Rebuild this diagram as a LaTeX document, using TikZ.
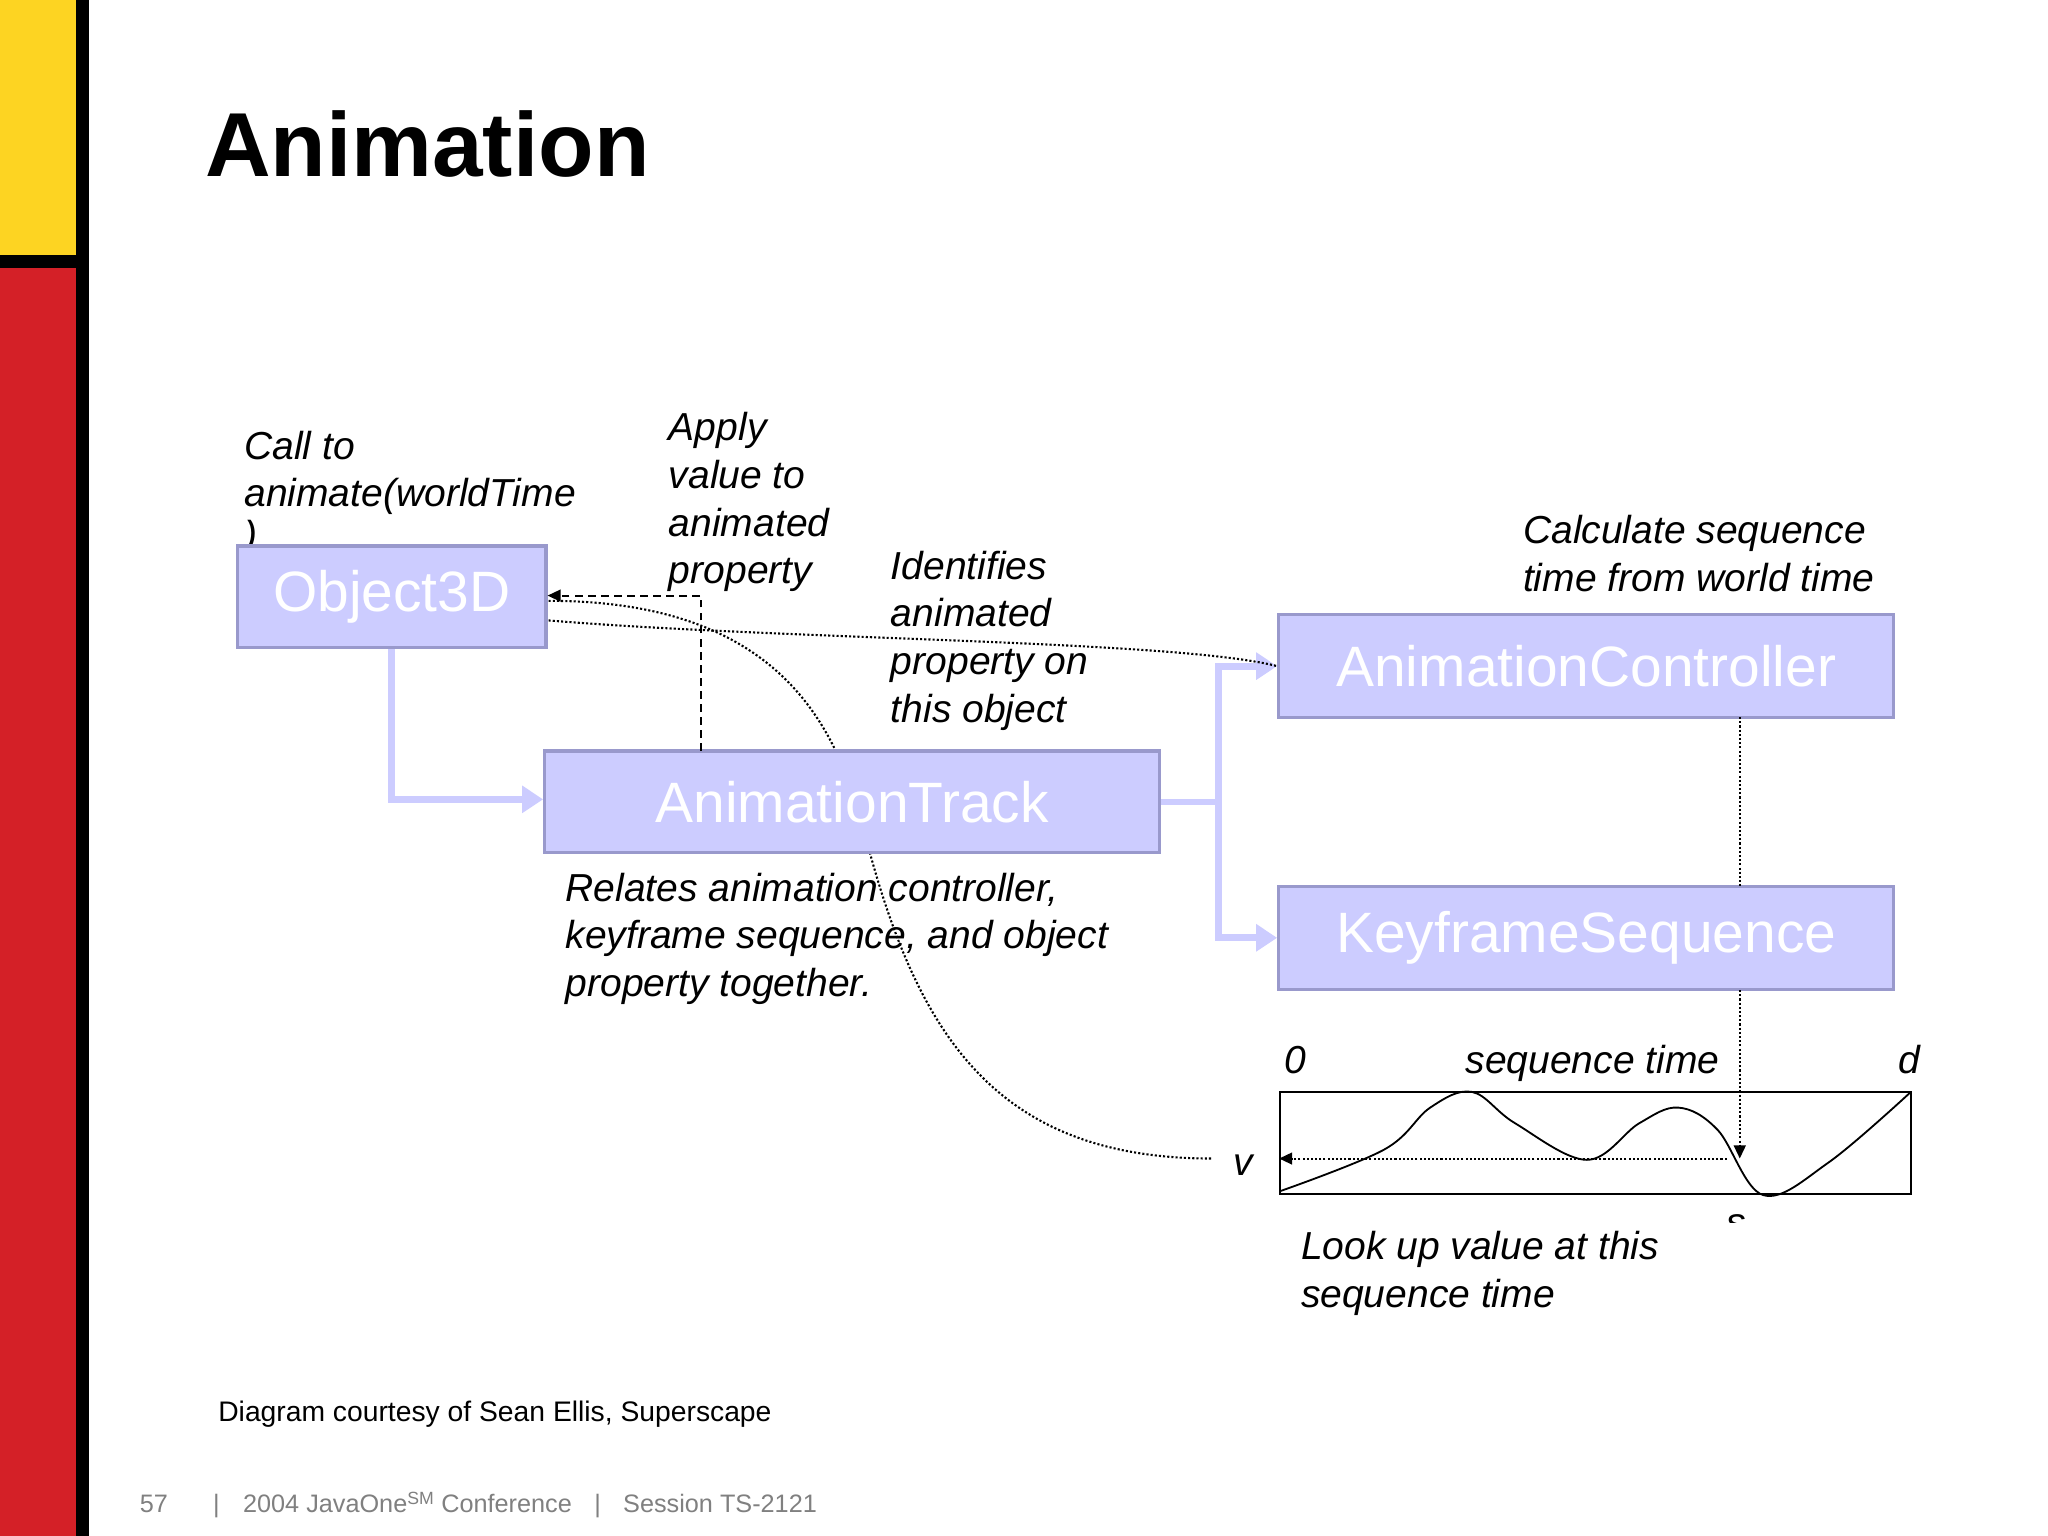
\documentclass[tikz,border=0pt]{standalone}
\usepackage{fontspec}
\setmainfont{Liberation Sans}
\usetikzlibrary{arrows.meta}
\definecolor{lav}{HTML}{CCCCFF}
\definecolor{lavb}{HTML}{9999CC}
\definecolor{yel}{HTML}{FDD422}
\definecolor{redb}{HTML}{D42027}
\newcommand{\bxt}[1]{\raisebox{-0.2em}{#1}}
\begin{document}
\begin{tikzpicture}[x=0.05cm,y=-0.05cm,
 box/.style={draw=lavb,line width=1.2mm,fill=lav,text=white,font=\fontsize{62}{64}\selectfont,inner sep=0pt},
 lbl/.style={anchor=base west,inner sep=0pt,font=\fontsize{42.5}{52}\selectfont\itshape,align=left},
 thick/.style={draw=lav,line width=2.6mm,-{Triangle[length=8mm,width=10mm]}},
 dot/.style={line width=0.8mm,dash pattern=on 0.8mm off 0.8mm},
 tip/.style={-{Triangle[length=5mm,width=4.5mm]}},
 foot/.style={anchor=base west,inner sep=0pt,text=gray,font=\fontsize{27.5}{30}\selectfont}]
\useasboundingbox (0,0) rectangle (1568,1176);
\fill[white] (0,0) rectangle (1568,1176);
\fill[yel] (0,0) rectangle (58,195);
\fill[redb] (0,205) rectangle (58,1176);
\fill[black] (58,0) rectangle (68,1176);
\fill[black] (0,195) rectangle (68,205);
\node[anchor=base west,inner sep=0pt,font=\fontsize{99}{100}\selectfont\bfseries] (title) at (157,135) {Animation};
% labels
\node[lbl] (l1) at (187,352) {Call to};
\node[lbl] (l1b) at (187,388) {animate(worldTime};
\node[lbl] (l1c) at (187,420) {)};
\node[lbl] (l2) at (512,447) {Apply\\value to\\animated\\property};
\node[lbl] (l3) at (682,553) {Identifies\\animated\\property on\\this object};
\node[lbl] (l4) at (1166,453) {Calculate sequence\\time from world time};
\node[lbl] (l5) at (433,763) {Relates animation controller,\\keyframe sequence, and object\\property together.};
\node[lbl] (l6) at (996,1001) {Look up value at this\\sequence time};
\node[lbl] (z) at (983,822) {0};
\node[lbl] (st) at (1122,822) {sequence time};
\node[lbl] (d) at (1453,822) {d};
\node[lbl] (v) at (944,900) {v};
\begin{scope}
\clip (1300,920) rectangle (1350,936);
\node[lbl] (s) at (1322,946) {s};
\end{scope}
% long dotted curve (behind boxes)
\coordinate (vend) at (928,887);
\draw[dot] (420,460) .. controls (600,460) and (640,560) .. (660,630) .. controls (700,790) and (760,887) .. (vend);
% boxes
\node[box,minimum width=236*0.05cm,minimum height=78*0.05cm] (o3d) at (300,457) {\bxt{Object3D}};
\node[box,minimum width=471*0.05cm,minimum height=78*0.05cm] (at) at (652.5,614) {\bxt{AnimationTrack}};
\node[box,minimum width=471*0.05cm,minimum height=79*0.05cm] (ac) at (1214.5,510) {\bxt{AnimationController}};
\node[box,minimum width=471*0.05cm,minimum height=79*0.05cm] (ks) at (1214.5,718) {\bxt{KeyframeSequence}};
% thick connectors
\draw[thick] (o3d.south) -- (300,612) -- (at.west |- 0,612);
\draw[draw=lav,line width=2.6mm] (at.east |- 0,614) -- (933,614);
\draw[thick] (933,614) -- (933,510) -- (ac.west);
\draw[thick] (933,614) -- (933,718) -- (ks.west);
% dashed
\draw[line width=0.8mm,dash pattern=on 3mm off 2mm,tip] (537,575) -- (537,456) -- (o3d.east |- 0,456);
% dotted
\draw[dot] (420,475) .. controls (600,490) and (900,490) .. (ac.west);
\draw[dot] (1332,549) -- (1332,679);
\coordinate (sp) at (1332,887);
\draw[dot,tip] (1332,758) -- (sp);
% graph
\node[draw,line width=0.7mm,minimum width=483*0.05cm,minimum height=78*0.05cm,inner sep=0pt] (g) at (1221.5,875) {};
\draw[line width=0.7mm] plot[smooth,tension=0.6] coordinates {(980,912) (1060,880) (1095,848) (1127,836) (1160,860) (1215,888) (1255,860) (1285,848) (1315,865) (1350,915) (1400,890) (1463,836)};
\draw[dot,tip] (1322,887) -- (g.west |- 0,887);
% footer
\node[anchor=base west,inner sep=0pt,font=\fontsize{30.8}{32}\selectfont] (cred) at (167,1088) {Diagram courtesy of Sean Ellis, Superscape};
\node[foot] (f1) at (107,1158) {57};
\node[foot] (f2) at (163,1158) {|};
\node[foot] (f3) at (186,1158) {2004 JavaOne\textsuperscript{SM} Conference};
\node[foot] (f4) at (455,1158) {|};
\node[foot] (f5) at (477,1158) {Session TS-2121};
\end{tikzpicture}
\end{document}
